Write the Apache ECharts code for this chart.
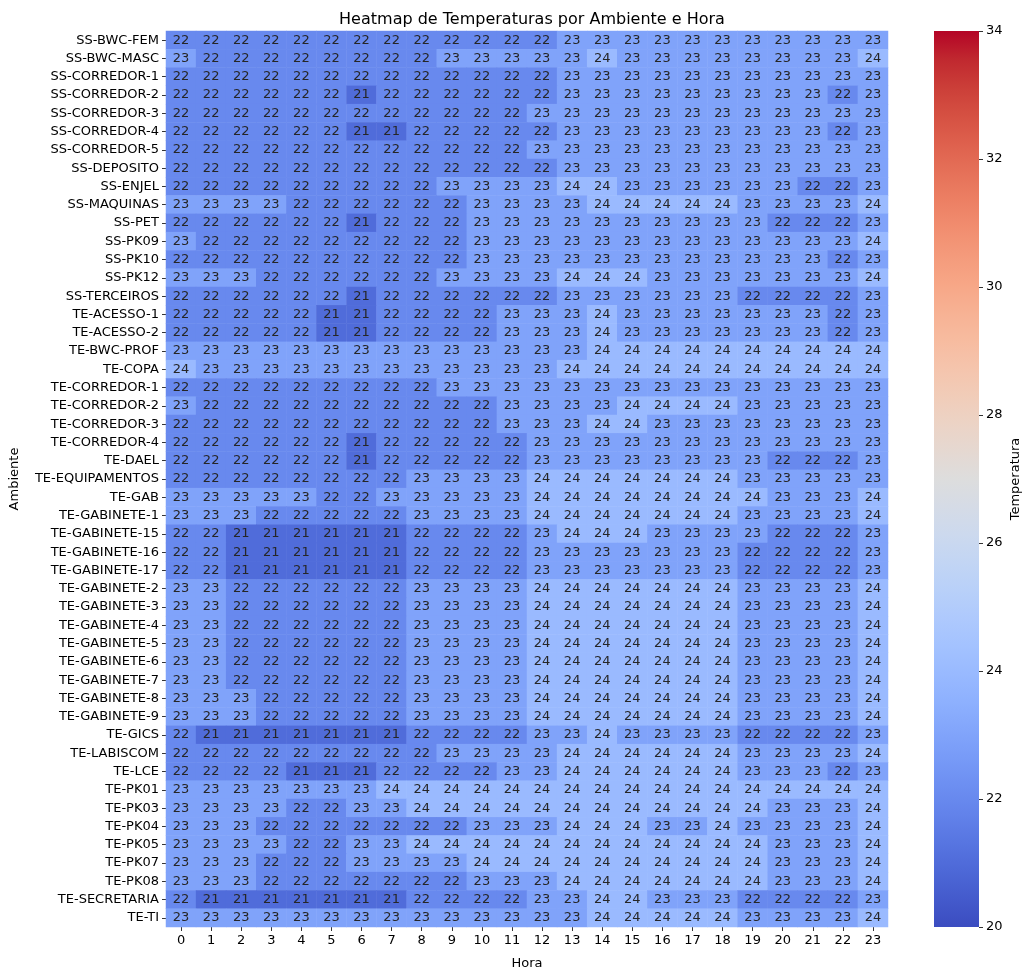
<!DOCTYPE html>
<html>
<head>
<meta charset="utf-8">
<title>Heatmap de Temperaturas por Ambiente e Hora</title>
<script src="https://cdn.jsdelivr.net/npm/echarts@6/dist/echarts.min.js"></script>
<style>
  html, body { margin: 0; padding: 0; background: #ffffff; }
  #chart { width: 1022px; height: 969px; }
</style>
</head>
<body>
<div id="chart"></div>
<script>
// Hours of the day (columns)
const horas = ['0','1','2','3','4','5','6','7','8','9','10','11','12','13','14','15','16','17','18','19','20','21','22','23'];

// Rooms (rows, top to bottom)
const ambientes = [
  'SS-BWC-FEM','SS-BWC-MASC','SS-CORREDOR-1','SS-CORREDOR-2','SS-CORREDOR-3','SS-CORREDOR-4','SS-CORREDOR-5',
  'SS-DEPOSITO','SS-ENJEL','SS-MAQUINAS','SS-PET','SS-PK09','SS-PK10','SS-PK12','SS-TERCEIROS',
  'TE-ACESSO-1','TE-ACESSO-2','TE-BWC-PROF','TE-COPA','TE-CORREDOR-1','TE-CORREDOR-2','TE-CORREDOR-3',
  'TE-CORREDOR-4','TE-DAEL','TE-EQUIPAMENTOS','TE-GAB','TE-GABINETE-1','TE-GABINETE-15','TE-GABINETE-16',
  'TE-GABINETE-17','TE-GABINETE-2','TE-GABINETE-3','TE-GABINETE-4','TE-GABINETE-5','TE-GABINETE-6',
  'TE-GABINETE-7','TE-GABINETE-8','TE-GABINETE-9','TE-GICS','TE-LABISCOM','TE-LCE','TE-PK01','TE-PK03',
  'TE-PK04','TE-PK05','TE-PK07','TE-PK08','TE-SECRETARIA','TE-TI'
];

// Mean temperature (°C) per room, hours 0..23
const temperaturas = [
  [22,22,22,22,22,22,22,22,22,22,22,22,22,23,23,23,23,23,23,23,23,23,23,23], // SS-BWC-FEM
  [23,22,22,22,22,22,22,22,22,23,23,23,23,23,24,23,23,23,23,23,23,23,23,24], // SS-BWC-MASC
  [22,22,22,22,22,22,22,22,22,22,22,22,22,23,23,23,23,23,23,23,23,23,23,23], // SS-CORREDOR-1
  [22,22,22,22,22,22,21,22,22,22,22,22,22,23,23,23,23,23,23,23,23,23,22,23], // SS-CORREDOR-2
  [22,22,22,22,22,22,22,22,22,22,22,22,23,23,23,23,23,23,23,23,23,23,23,23], // SS-CORREDOR-3
  [22,22,22,22,22,22,21,21,22,22,22,22,22,23,23,23,23,23,23,23,23,23,22,23], // SS-CORREDOR-4
  [22,22,22,22,22,22,22,22,22,22,22,22,23,23,23,23,23,23,23,23,23,23,23,23], // SS-CORREDOR-5
  [22,22,22,22,22,22,22,22,22,22,22,22,22,23,23,23,23,23,23,23,23,23,23,23], // SS-DEPOSITO
  [22,22,22,22,22,22,22,22,22,23,23,23,23,24,24,23,23,23,23,23,23,22,22,23], // SS-ENJEL
  [23,23,23,23,22,22,22,22,22,22,23,23,23,23,24,24,24,24,24,23,23,23,23,24], // SS-MAQUINAS
  [22,22,22,22,22,22,21,22,22,22,23,23,23,23,23,23,23,23,23,23,22,22,22,23], // SS-PET
  [23,22,22,22,22,22,22,22,22,22,23,23,23,23,23,23,23,23,23,23,23,23,23,24], // SS-PK09
  [22,22,22,22,22,22,22,22,22,22,23,23,23,23,23,23,23,23,23,23,23,23,22,23], // SS-PK10
  [23,23,23,22,22,22,22,22,22,23,23,23,23,24,24,24,23,23,23,23,23,23,23,24], // SS-PK12
  [22,22,22,22,22,22,21,22,22,22,22,22,22,23,23,23,23,23,23,22,22,22,22,23], // SS-TERCEIROS
  [22,22,22,22,22,21,21,22,22,22,22,23,23,23,24,23,23,23,23,23,23,23,22,23], // TE-ACESSO-1
  [22,22,22,22,22,21,21,22,22,22,22,23,23,23,24,23,23,23,23,23,23,23,22,23], // TE-ACESSO-2
  [23,23,23,23,23,23,23,23,23,23,23,23,23,23,24,24,24,24,24,24,24,24,24,24], // TE-BWC-PROF
  [24,23,23,23,23,23,23,23,23,23,23,23,23,24,24,24,24,24,24,24,24,24,24,24], // TE-COPA
  [22,22,22,22,22,22,22,22,22,23,23,23,23,23,23,23,23,23,23,23,23,23,23,23], // TE-CORREDOR-1
  [23,22,22,22,22,22,22,22,22,22,22,23,23,23,23,24,24,24,24,23,23,23,23,23], // TE-CORREDOR-2
  [22,22,22,22,22,22,22,22,22,22,22,23,23,23,24,24,23,23,23,23,23,23,23,23], // TE-CORREDOR-3
  [22,22,22,22,22,22,21,22,22,22,22,22,23,23,23,23,23,23,23,23,23,23,23,23], // TE-CORREDOR-4
  [22,22,22,22,22,22,21,22,22,22,22,22,23,23,23,23,23,23,23,23,22,22,22,23], // TE-DAEL
  [22,22,22,22,22,22,22,22,23,23,23,23,24,24,24,24,24,24,24,23,23,23,23,23], // TE-EQUIPAMENTOS
  [23,23,23,23,23,22,22,23,23,23,23,23,24,24,24,24,24,24,24,24,23,23,23,24], // TE-GAB
  [23,23,23,22,22,22,22,22,23,23,23,23,24,24,24,24,24,24,24,23,23,23,23,24], // TE-GABINETE-1
  [22,22,21,21,21,21,21,21,22,22,22,22,23,24,24,24,23,23,23,23,22,22,22,23], // TE-GABINETE-15
  [22,22,21,21,21,21,21,21,22,22,22,22,23,23,23,23,23,23,23,22,22,22,22,23], // TE-GABINETE-16
  [22,22,21,21,21,21,21,21,22,22,22,22,23,23,23,23,23,23,23,22,22,22,22,23], // TE-GABINETE-17
  [23,23,22,22,22,22,22,22,23,23,23,23,24,24,24,24,24,24,24,23,23,23,23,24], // TE-GABINETE-2
  [23,23,22,22,22,22,22,22,23,23,23,23,24,24,24,24,24,24,24,23,23,23,23,24], // TE-GABINETE-3
  [23,23,22,22,22,22,22,22,23,23,23,23,24,24,24,24,24,24,24,23,23,23,23,24], // TE-GABINETE-4
  [23,23,22,22,22,22,22,22,23,23,23,23,24,24,24,24,24,24,24,23,23,23,23,24], // TE-GABINETE-5
  [23,23,22,22,22,22,22,22,23,23,23,23,24,24,24,24,24,24,24,23,23,23,23,24], // TE-GABINETE-6
  [23,23,22,22,22,22,22,22,23,23,23,23,24,24,24,24,24,24,24,23,23,23,23,24], // TE-GABINETE-7
  [23,23,23,22,22,22,22,22,23,23,23,23,24,24,24,24,24,24,24,23,23,23,23,24], // TE-GABINETE-8
  [23,23,23,22,22,22,22,22,23,23,23,23,24,24,24,24,24,24,24,23,23,23,23,24], // TE-GABINETE-9
  [22,21,21,21,21,21,21,21,22,22,22,22,23,23,24,23,23,23,23,22,22,22,22,23], // TE-GICS
  [22,22,22,22,22,22,22,22,22,23,23,23,23,24,24,24,24,24,24,23,23,23,23,24], // TE-LABISCOM
  [22,22,22,22,21,21,21,22,22,22,22,23,23,24,24,24,24,24,24,23,23,23,22,23], // TE-LCE
  [23,23,23,23,23,23,23,24,24,24,24,24,24,24,24,24,24,24,24,24,24,24,24,24], // TE-PK01
  [23,23,23,23,22,22,23,23,24,24,24,24,24,24,24,24,24,24,24,24,23,23,23,24], // TE-PK03
  [23,23,23,22,22,22,22,22,22,22,23,23,23,24,24,24,23,23,24,23,23,23,23,24], // TE-PK04
  [23,23,23,23,22,22,23,23,24,24,24,24,24,24,24,24,24,24,24,24,23,23,23,24], // TE-PK05
  [23,23,23,22,22,22,23,23,23,23,24,24,24,24,24,24,24,24,24,24,23,23,23,24], // TE-PK07
  [23,23,23,22,22,22,22,22,22,22,23,23,23,24,24,24,24,24,24,24,23,23,23,24], // TE-PK08
  [22,21,21,21,21,21,21,21,22,22,22,22,23,23,24,24,23,23,23,22,22,22,22,23], // TE-SECRETARIA
  [23,23,23,23,23,23,23,23,23,23,23,23,23,23,24,24,24,24,24,23,23,23,23,24]  // TE-TI
];

// Colour scale limits and colourbar ticks
const escalaMin = 20;
const escalaMax = 34;
const escalaPasso = 2;

// Diverging blue–grey–red ramp (cool to warm), evenly spaced stops
const coolwarm = [
  '#3b4cc0','#445acc','#4d68d7','#5775e1','#6282ea','#6c8ef1','#779af7','#82a5fb',
  '#8db0fe','#98b9ff','#a3c2ff','#aec9fd','#b8d0f9','#c2d5f4','#ccd9ee','#d5dbe6',
  '#dddddd','#e5d8d1','#ecd3c5','#f1ccb8','#f5c4ac','#f7bb9f','#f7b193','#f7a686',
  '#f49a7b','#f18d6f','#ec7f63','#e57058','#de604d','#d55042','#cb3e38','#c0282f','#b40426'
];

// [hourIndex, roomIndex, value] triples for the heatmap series
const celulas = [];
temperaturas.forEach((linha, i) => {
  linha.forEach((v, h) => celulas.push([h, i, v]));
});

// Colourbar geometry (sits beside the heatmap, same height)
const barra = { left: 934, top: 31, width: 45, height: 896 };

const fonte = 'DejaVu Sans';
const chart = echarts.init(document.getElementById('chart'), null, { renderer: 'canvas' });

// Vertical gradient for the colourbar: blue at the bottom (min), red at the top (max)
const gradienteBarra = new echarts.graphic.LinearGradient(0, 1, 0, 0,
  coolwarm.map((c, i) => ({ offset: i / (coolwarm.length - 1), color: c })));

chart.setOption({
  animation: false,
  backgroundColor: '#ffffff',
  title: {
    text: 'Heatmap de Temperaturas por Ambiente e Hora',
    left: 527,
    top: 7,
    textAlign: 'center',
    textStyle: { fontFamily: fonte, fontSize: 16, fontWeight: 'normal', color: '#000000' }
  },
  grid: [
    { left: 166, top: 31, width: 722, height: 896, outerBoundsMode: 'none', containLabel: false },
    { left: barra.left, top: barra.top, width: barra.width, height: barra.height, outerBoundsMode: 'none', containLabel: false }
  ],
  xAxis: [
    {
      gridIndex: 0,
      type: 'category',
      data: horas,
      name: 'Hora',
      nameLocation: 'middle',
      nameGap: 30,
      nameTextStyle: { fontFamily: fonte, fontSize: 13, color: '#000000' },
      axisLine: { show: false },
      axisTick: { show: true, alignWithLabel: true, length: 4, lineStyle: { color: '#000000', width: 0.8 } },
      axisLabel: { fontFamily: fonte, fontSize: 13, color: '#000000', margin: 7, interval: 0 },
      splitLine: { show: false }
    },
    { gridIndex: 1, type: 'value', show: false, min: 0, max: 1 }
  ],
  yAxis: [
    {
      gridIndex: 0,
      type: 'category',
      data: ambientes,
      inverse: true,
      name: 'Ambiente',
      nameLocation: 'middle',
      nameGap: 145,
      nameRotate: 90,
      nameTextStyle: { fontFamily: fonte, fontSize: 13, color: '#000000' },
      axisLine: { show: false },
      axisTick: { show: true, alignWithLabel: true, length: 4, lineStyle: { color: '#000000', width: 0.8 } },
      axisLabel: { fontFamily: fonte, fontSize: 13, color: '#000000', margin: 7, interval: 0 },
      splitLine: { show: false }
    },
    {
      gridIndex: 1,
      type: 'value',
      position: 'right',
      min: escalaMin,
      max: escalaMax,
      interval: escalaPasso,
      name: 'Temperatura',
      nameLocation: 'middle',
      nameGap: 30,
      nameRotate: 90,
      nameTextStyle: { fontFamily: fonte, fontSize: 13, color: '#000000' },
      axisLine: { show: false, onZero: false },
      axisTick: { show: true, length: 4, lineStyle: { color: '#000000', width: 0.8 } },
      axisLabel: { fontFamily: fonte, fontSize: 13, color: '#000000', margin: 7 },
      splitLine: { show: false }
    }
  ],
  // Maps each cell's value to the same ramp the colourbar shows
  visualMap: {
    type: 'continuous',
    show: false,
    seriesIndex: 0,
    min: escalaMin,
    max: escalaMax,
    inRange: { color: coolwarm }
  },
  graphic: [
    {
      type: 'rect',
      left: barra.left,
      top: barra.top,
      silent: true,
      z: -1,
      shape: { width: barra.width, height: barra.height },
      style: { fill: gradienteBarra, lineWidth: 0 }
    }
  ],
  series: [
    {
      type: 'heatmap',
      xAxisIndex: 0,
      yAxisIndex: 0,
      data: celulas,
      itemStyle: { borderWidth: 0 },
      label: {
        show: true,
        formatter: p => String(p.value[2]),
        fontFamily: fonte,
        fontSize: 13,
        color: '#262626'
      },
      emphasis: { disabled: true }
    }
  ]
});
</script>
</body>
</html>
